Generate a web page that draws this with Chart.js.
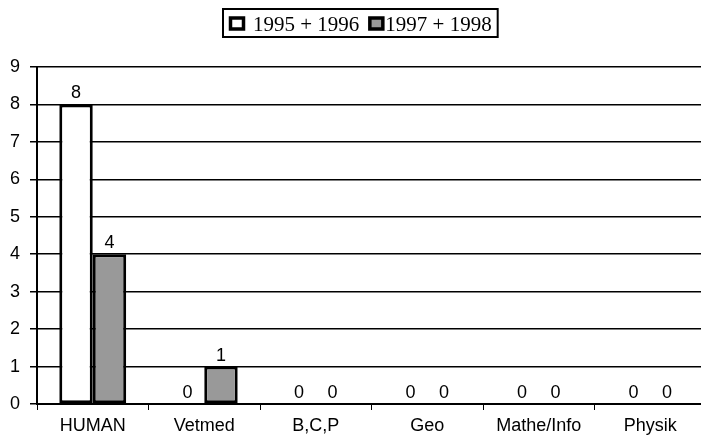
<!DOCTYPE html>
<html lang="de">
<head>
    <meta charset="UTF-8">
    <title>Faecher 1995-1998</title>
    <script src="https://cdn.jsdelivr.net/npm/chart.js@4.4.0/dist/chart.umd.min.js"></script>
    <style>
        html, body {
            margin: 0;
            padding: 0;
            background: #fff;
            overflow: hidden;
        }
        .chart-wrap {
            position: relative;
            width: 710px;
            height: 441px;
        }
    </style>
</head>
<body>
    <div class="chart-wrap">
        <canvas id="chart"></canvas>
    </div>

    <script>
        // Data
        const categories = ['HUMAN', 'Vetmed', 'B,C,P', 'Geo', 'Mathe/Info', 'Physik'];
        const seriesNames = ['1995 + 1996', '1997 + 1998'];
        const values9596 = [8, 0, 0, 0, 0, 0];
        const values9798 = [4, 1, 0, 0, 0, 0];
        const yTicks = [0, 1, 2, 3, 4, 5, 6, 7, 8, 9];

        const sansFont = 'Arial, "Liberation Sans", sans-serif';
        const serifFont = '"Liberation Serif", "Times New Roman", serif';

        // value labels above each bar
        const valueLabels = {
            id: 'valueLabels',
            afterDatasetsDraw(chart) {
                const ctx = chart.ctx;
                ctx.save();
                ctx.font = '18px ' + sansFont;
                ctx.fillStyle = '#000';
                ctx.textAlign = 'center';
                ctx.textBaseline = 'alphabetic';
                chart.data.datasets.forEach((ds, i) => {
                    chart.getDatasetMeta(i).data.forEach((bar, j) => {
                        ctx.fillText(String(ds.data[j]), bar.x, bar.y - 6);
                    });
                });
                ctx.restore();
            }
        };

        // boxed legend like the original
        const boxLegend = {
            id: 'boxLegend',
            afterDraw(chart) {
                const ctx = chart.ctx;
                ctx.save();
                ctx.font = '21px ' + serifFont;
                ctx.textBaseline = 'middle';
                ctx.textAlign = 'left';
                const midY = 24;
                const items = chart.data.datasets.map(ds => ({
                    text: ds.label, fill: ds.backgroundColor
                }));
                const marker = 16, gap = [8, 1], sep = 9;
                let total = 0;
                items.forEach((it, i) => {
                    it.w = ctx.measureText(it.text).width;
                    total += marker + gap[i] + it.w + (i < items.length - 1 ? sep : 0);
                });
                const padX = 6;
                const left = Math.round(360.5 - total / 2);
                ctx.lineWidth = 2;
                ctx.strokeStyle = '#000';
                ctx.strokeRect(left - padX, 9, total + padX * 2, 28);
                let x = left;
                items.forEach((it, i) => {
                    ctx.fillStyle = it.fill;
                    ctx.lineWidth = 3.5;
                    ctx.fillRect(x + 1.5, midY - 6, marker - 3, 11);
                    ctx.strokeRect(x + 1.5, midY - 6, marker - 3, 11);
                    x += marker + gap[i];
                    ctx.fillStyle = '#000';
                    ctx.fillText(it.text, x, midY + 1);
                    x += it.w + sep;
                });
                ctx.restore();
            }
        };

        new Chart(document.getElementById('chart'), {
            type: 'bar',
            data: {
                labels: categories,
                datasets: [{
                    label: seriesNames[0],
                    data: values9596,
                    backgroundColor: '#ffffff',
                    borderColor: '#000000',
                    borderWidth: 3,
                    borderSkipped: false
                }, {
                    label: seriesNames[1],
                    data: values9798,
                    backgroundColor: '#999999',
                    borderColor: '#000000',
                    borderWidth: 3,
                    borderSkipped: false
                }]
            },
            options: {
                responsive: true,
                maintainAspectRatio: false,
                animation: false,
                layout: {
                    padding: { top: 67, right: 4, left: 0, bottom: 0 }
                },
                datasets: {
                    bar: {
                        categoryPercentage: 0.6,
                        barPercentage: 1.0
                    }
                },
                plugins: {
                    legend: { display: false },
                    tooltip: { enabled: false }
                },
                scales: {
                    x: {
                        offset: true,
                        grid: {
                            offset: true,
                            drawOnChartArea: false,
                            drawTicks: true,
                            tickLength: 6,
                            color: '#000',
                            lineWidth: 1
                        },
                        border: { color: '#000', width: 2 },
                        ticks: {
                            color: '#000',
                            font: { family: sansFont, size: 18 },
                            padding: 5,
                            maxRotation: 0,
                            autoSkip: false
                        },
                        afterFit(scale) { scale.height = 37; }
                    },
                    y: {
                        min: yTicks[0],
                        max: yTicks[yTicks.length - 1],
                        afterBuildTicks(scale) {
                            scale.ticks = yTicks.map(v => ({ value: v }));
                        },
                        grid: {
                            color: '#000',
                            lineWidth: 1.5,
                            drawTicks: true,
                            tickLength: 7
                        },
                        border: { color: '#000', width: 2 },
                        ticks: {
                            color: '#000',
                            font: { family: sansFont, size: 18 },
                            padding: 10
                        },
                        afterFit(scale) { scale.width = 37; }
                    }
                }
            },
            plugins: [valueLabels, boxLegend]
        });
    </script>
</body>
</html>
